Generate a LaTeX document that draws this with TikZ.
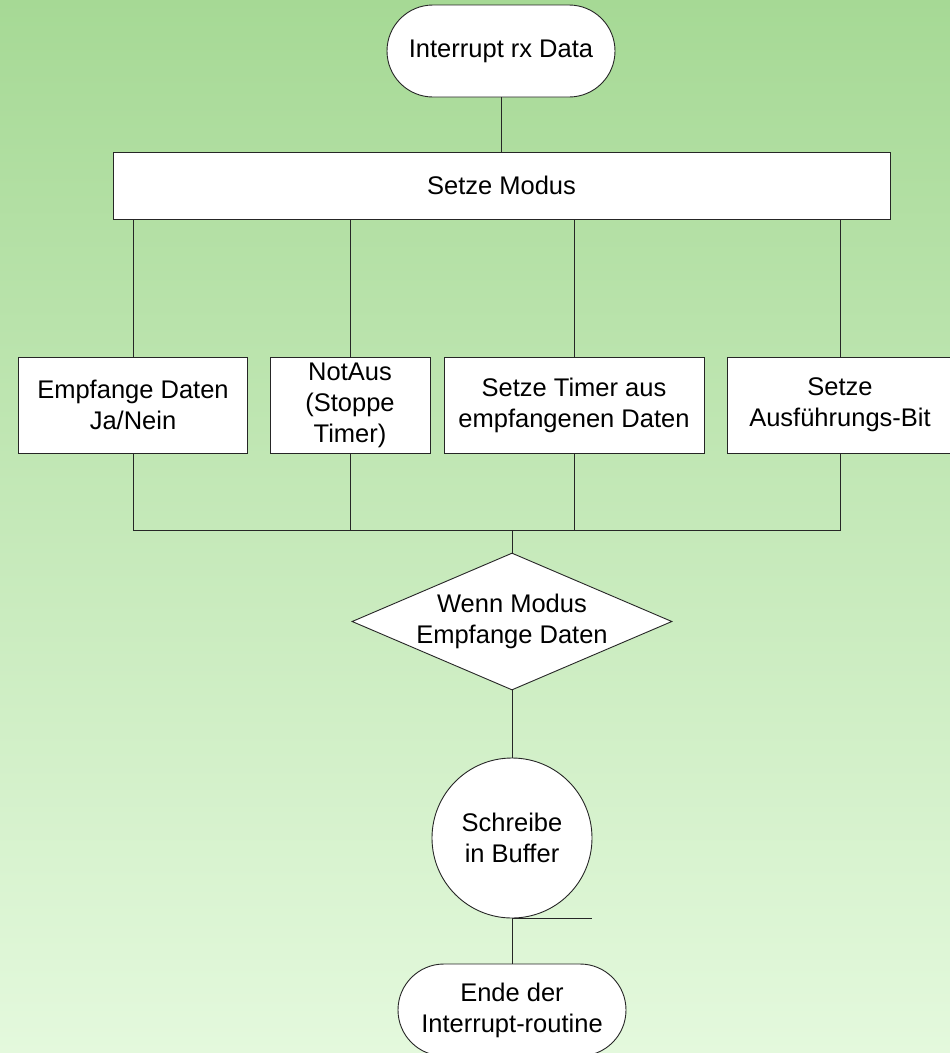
\documentclass[tikz,border=0pt]{standalone}
\usepackage{fontspec}
\setmainfont{Liberation Sans}
\usetikzlibrary{calc,positioning,shapes.geometric,shapes.misc}

\begin{document}
\begin{tikzpicture}[x=1pt,y=-1pt,
    every node/.style={font=\fontsize{25.5}{31}\selectfont,align=center,inner sep=0pt},
    term/.style={rounded rectangle,draw=black!85,fill=white,line width=0.9pt,minimum width=228,minimum height=92},
    task/.style={rectangle,draw=black!85,fill=white,line width=0.9pt,minimum height=96},
    dec/.style={diamond,draw=black!85,fill=white,line width=0.9pt,aspect=2.34,minimum width=320,minimum height=137},
    proc/.style={circle,draw=black!85,fill=white,line width=0.9pt,minimum size=160},
    con/.style={draw=black!85,line width=0.9pt}]
     \useasboundingbox (0,0) rectangle (950,1053);
     \shade[top color={rgb,255:red,166;green,217;blue,149},bottom color={rgb,255:red,228;green,249;blue,221}] (0,0) rectangle (950,1053);
     \begin{scope}
     \clip (0,0) rectangle (950,1053);

     \node[term] (start) at (501,51) {Interrupt rx Data};
     \node[task,minimum width=777,minimum height=67] (modus) at (501.5,185.5) {Setze Modus};

     \node[task,minimum width=229] (b1) at (133,405) {Empfange Daten\\Ja/Nein};
     \node[task,minimum width=160] (b2) at (350,405) {NotAus\\(Stoppe\\Timer)};
     \node[task,minimum width=260] (b3) at (574,405) {Setze Timer aus\\empfangenen Daten};
     \node[task,minimum width=226] (b4) at (840,405) {Setze\\Ausführungs-Bit};

     \coordinate (join) at (512,530);
     \node[dec] (wenn) at (512,621.5) {Wenn Modus\\Empfange Daten};
     \node[proc] (buf) at (512,838) {Schreibe\\in Buffer};
     \node[term] (ende) at (512,1010) {Ende der\\Interrupt-routine};

     \draw[con] (start.south) -- (start.south |- modus.north);
     \draw[con] (b1.north |- modus.south) -- (b1.north);
     \draw[con] (b2.north |- modus.south) -- (b2.north);
     \draw[con] (b3.north |- modus.south) -- (b3.north);
     \draw[con] (b4.north |- modus.south) -- (b4.north);
     \draw[con] (b1.south) -- (b1.south |- join) -- (b4.south |- join) -- (b4.south);
     \draw[con] (b2.south) -- (b2.south |- join);
     \draw[con] (b3.south) -- (b3.south |- join);
     \draw[con] (join) -- (wenn.north);
     \draw[con] (wenn.south) -- (buf.north);
     \draw[con] (buf.south) -- (ende.north);
     \draw[con] (buf.south) -- ++(80,0);
     \end{scope}
    \end{tikzpicture}
\end{document}
